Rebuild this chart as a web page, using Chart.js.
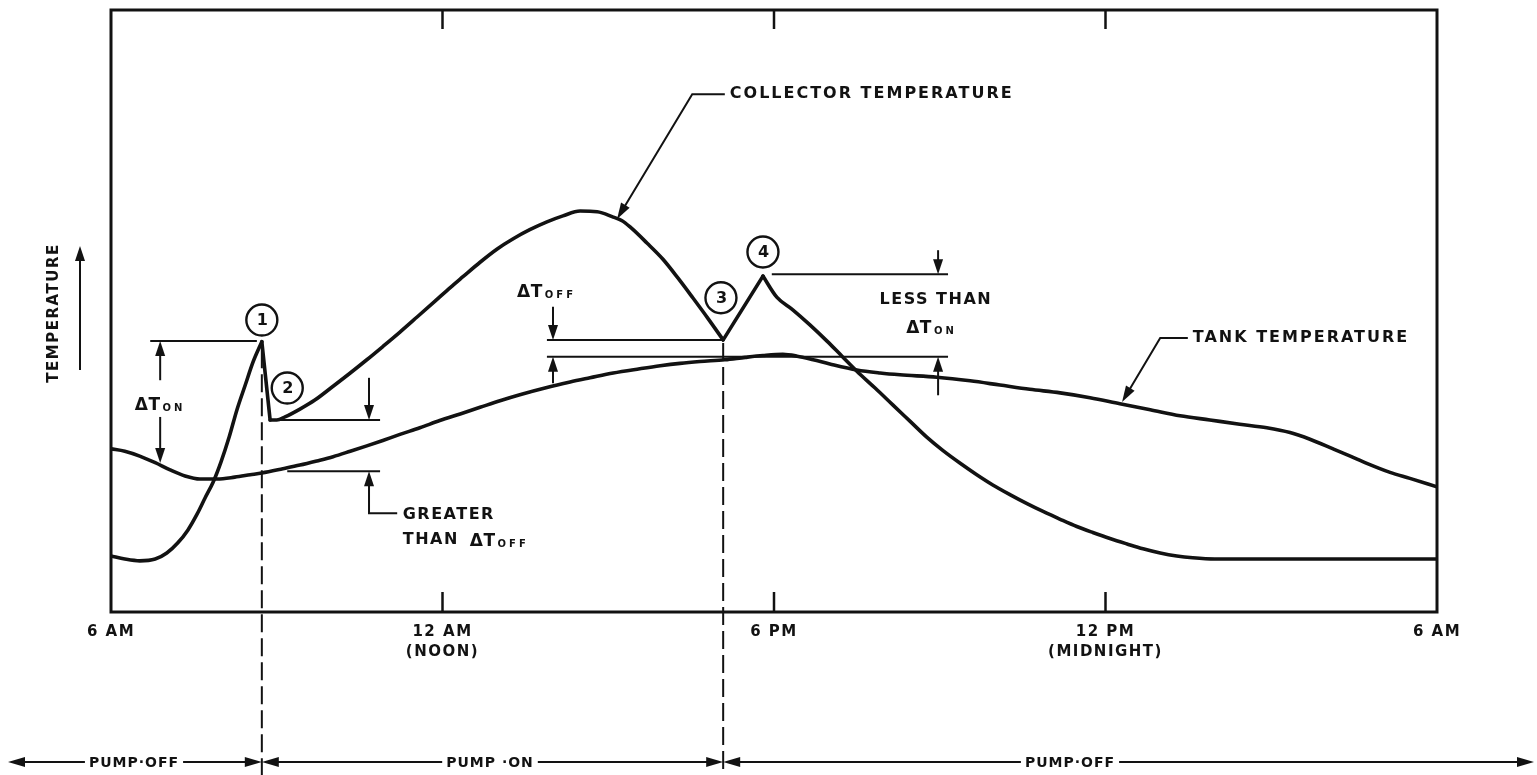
<!DOCTYPE html>
<html>
<head>
<meta charset="utf-8">
<title>Collector and tank temperature over a day</title>
<script src="https://cdn.jsdelivr.net/npm/chart.js@4.4.1/dist/chart.umd.min.js"></script>
<style>
  html, body { margin: 0; padding: 0; background: #fff; }
  canvas { display: block; }
</style>
</head>
<body>
<canvas id="chart" width="1537" height="775"></canvas>
<script>
// Time is counted in hours after 6 AM; temperature is in relative units (0-100).
const collectorHours = [0, 0.25, 0.52, 0.8, 1.01, 1.21, 1.39, 1.56, 1.7, 1.85, 1.99, 2.14, 2.28, 2.43, 2.57, 2.73,
  2.88, 3.0, 3.15, 3.42, 3.69, 4.02, 4.33, 4.63, 4.92, 5.23, 5.54, 5.86, 6.14, 6.37, 6.68, 6.99, 7.28, 7.58, 7.89,
  8.18, 8.49, 8.8, 9.09, 9.25, 9.39, 9.7, 9.99, 10.26, 10.53, 10.81, 11.08, 11.8, 12.05, 12.34, 12.65, 12.96, 13.23,
  13.5, 13.83, 14.15, 14.46, 14.77, 15.06, 15.37, 15.67, 15.96, 16.27, 16.58, 16.87, 17.18, 17.48, 17.77, 18.08,
  18.39, 18.68, 18.99, 19.29, 19.58, 19.98, 24];
const collectorTemp = [9.3, 8.8, 8.5, 8.8, 9.8, 11.5, 13.6, 16.3, 18.9, 21.6, 24.9, 29.1, 33.6, 37.7, 41.5, 44.9,
  31.9, 31.9, 32.4, 33.7, 35.2, 37.5, 39.7, 41.9, 44.1, 46.5, 49.0, 51.6, 53.9, 55.7, 58.1, 60.3, 62.0, 63.5, 64.8,
  65.8, 66.6, 66.5, 65.6, 65.0, 64.0, 61.3, 58.6, 55.5, 52.2, 48.7, 45.2, 55.8, 52.3, 50.2, 47.7, 45.0, 42.5,
  40.0, 37.2, 34.4, 31.7, 29.0, 26.8, 24.7, 22.8, 21.1, 19.5, 18.0, 16.7, 15.4, 14.2, 13.2, 12.2,
  11.3, 10.5, 9.8, 9.3, 9.0, 8.8, 8.8];
// Hours at which the collector curve turns sharply (events 1, 2, 3 and 4).
const collectorCorners = [2.73, 2.88, 11.08, 11.8];

const tankHours = [0, 0.25, 0.52, 0.8, 1.07, 1.34, 1.61, 1.92, 2.24, 2.52, 2.73, 3.11, 3.42, 3.73, 4.02, 4.33, 4.63,
  4.92, 5.23, 5.59, 5.95, 6.32, 6.68, 7.04, 7.4, 7.89, 8.31, 8.67, 9.09, 9.57, 9.94, 10.3, 10.66, 11.11, 11.48, 11.8,
  12.16, 12.42, 12.71, 13.01, 13.5, 13.92, 14.28, 14.95, 15.55, 16.09, 16.63, 17.18, 17.72, 18.26, 18.81, 19.35,
  19.89, 20.43, 20.92, 21.34, 21.7, 22.12, 22.43, 22.73, 23.15, 23.51, 24];
const tankTemp = [27.1, 26.7, 25.9, 24.8, 23.6, 22.6, 22.1, 22.1, 22.4, 22.8, 23.1, 23.8, 24.4, 25.1, 25.8, 26.7, 27.6,
  28.5, 29.5, 30.6, 31.8, 32.9, 34.0, 35.1, 36.1, 37.3, 38.2, 38.9, 39.7, 40.4, 40.9, 41.3, 41.6, 41.9, 42.3, 42.6,
  42.8, 42.5, 41.9, 41.2, 40.2, 39.7, 39.4, 39.0, 38.4, 37.7, 37.0, 36.4, 35.6, 34.6, 33.6, 32.6,
  31.9, 31.2, 30.6, 29.8, 28.7, 27.1, 25.9, 24.7, 23.2, 22.2, 20.8];

const tickHours = [0, 6, 12, 18, 24];
const tickLabels = [["6 AM"], ["12 AM", "(NOON)"], ["6 PM"], ["12 PM", "(MIDNIGHT)"], ["6 AM"]];

// Pump switches on at point 1 and off at point 3.
const pumpSwitchHours = [2.73, 11.08];
const pumpLabels = ["PUMP\u00B7OFF", "PUMP \u00B7ON", "PUMP\u00B7OFF"];

const INK = '#121212';
const FONT = '"DejaVu Sans", "Liberation Sans", sans-serif';

function toPoints(xs, ys) { return xs.map((x, i) => ({ x, y: ys[i] })); }

// Split a series at its corner hours so each smooth stretch is drawn on its own
// and the corners stay sharp.
function splitAt(points, corners) {
  const pieces = [[]];
  points.forEach(p => {
    pieces[pieces.length - 1].push(p);
    if (corners.includes(p.x)) pieces.push([p]);
  });
  return pieces.filter(piece => piece.length > 1);
}

function setText(ctx, size, spacing) {
  ctx.font = 'bold ' + size + 'px ' + FONT;
  ctx.letterSpacing = (spacing || 0) + 'px';
  ctx.fillStyle = INK;
}

function line(ctx, pts, width) {
  ctx.lineWidth = width || 2;
  ctx.beginPath();
  ctx.moveTo(pts[0][0], pts[0][1]);
  for (let i = 1; i < pts.length; i++) ctx.lineTo(pts[i][0], pts[i][1]);
  ctx.stroke();
}

// Polyline ending in a filled arrowhead at the last point.
function arrow(ctx, pts, len, half, width) {
  len = len || 15; half = half || 5;
  const [x1, y1] = pts[pts.length - 2];
  const [x2, y2] = pts[pts.length - 1];
  const a = Math.atan2(y2 - y1, x2 - x1);
  const cut = pts.slice(0, -1).concat([[x2 - Math.cos(a) * len * 0.6, y2 - Math.sin(a) * len * 0.6]]);
  line(ctx, cut, width || 2);
  ctx.beginPath();
  ctx.moveTo(x2, y2);
  ctx.lineTo(x2 - len * Math.cos(a) + half * Math.sin(a), y2 - len * Math.sin(a) - half * Math.cos(a));
  ctx.lineTo(x2 - len * Math.cos(a) - half * Math.sin(a), y2 - len * Math.sin(a) + half * Math.cos(a));
  ctx.closePath();
  ctx.fill();
}

// "ΔT" with a small subscript; x is the left edge (or centre), y the baseline.
function deltaT(ctx, x, y, sub, center) {
  setText(ctx, 17, 0.5);
  const w1 = ctx.measureText('\u0394T').width;
  setText(ctx, 10, 3);
  const w2 = ctx.measureText(sub).width;
  const left = center ? x - (w1 + 2 + w2) / 2 : x;
  ctx.textAlign = 'left';
  ctx.textBaseline = 'alphabetic';
  setText(ctx, 17, 0.5);
  ctx.fillText('\u0394T', left, y);
  setText(ctx, 10, 3);
  ctx.fillText(sub, left + w1 + 2, y + 1);
}

function label(ctx, str, x, y, size, align, spacing) {
  setText(ctx, size, spacing == null ? 1.5 : spacing);
  ctx.textAlign = align || 'left';
  ctx.textBaseline = 'middle';
  ctx.fillText(str, x, y);
}

function circled(ctx, digit, x, y) {
  ctx.lineWidth = 2.4;
  ctx.beginPath();
  ctx.arc(x, y, 15.5, 0, Math.PI * 2);
  ctx.stroke();
  label(ctx, digit, x + 0.5, y + 1, 16, 'center', 0);
}

const annotate = {
  id: 'annotate',
  beforeDraw(chart) {
    const ctx = chart.ctx;
    ctx.save();
    ctx.fillStyle = '#fff';
    ctx.fillRect(0, 0, chart.width, chart.height);
    ctx.restore();
    ctx.letterSpacing = '1.5px';
  },
  afterDraw(chart) {
    const ctx = chart.ctx;
    const xs = chart.scales.x, ys = chart.scales.y;
    const X = h => xs.getPixelForValue(h);
    const Y = v => ys.getPixelForValue(v);
    const area = chart.chartArea;
    ctx.save();
    ctx.strokeStyle = INK;
    ctx.fillStyle = INK;
    ctx.lineCap = 'butt';

    // Frame with inward hour ticks on the top and bottom edges
    ctx.lineWidth = 3;
    ctx.strokeRect(area.left, area.top, area.right - area.left, area.bottom - area.top);
    tickHours.slice(1, -1).forEach(h => {
      line(ctx, [[X(h), area.bottom], [X(h), area.bottom - 20]], 2.5);
      line(ctx, [[X(h), area.top], [X(h), area.top + 19]], 2.5);
    });

    // Vertical axis caption and arrow
    ctx.save();
    ctx.translate(area.left - 57, (area.top + area.bottom) / 2 + 2);
    ctx.rotate(-Math.PI / 2);
    label(ctx, 'TEMPERATURE', 0, 0, 15, 'center', 1.5);
    ctx.restore();
    arrow(ctx, [[area.left - 31, Y(40.2)], [area.left - 31, Y(60.8)]], 15, 5, 2);

    // Pump switching instants
    ctx.save();
    ctx.setLineDash([18, 6]);
    line(ctx, [[X(pumpSwitchHours[0]), Y(43.5)], [X(pumpSwitchHours[0]), chart.height]], 2);
    line(ctx, [[X(pumpSwitchHours[1]), Y(44.7)], [X(pumpSwitchHours[1]), chart.height]], 2);
    ctx.restore();

    // Numbered events
    circled(ctx, '1', X(2.73), Y(48.5));
    circled(ctx, '2', X(3.19), Y(37.2));
    circled(ctx, '3', X(11.04), Y(52.2));
    circled(ctx, '4', X(11.8), Y(59.8));

    // ΔT ON at switch-on
    line(ctx, [[X(0.71), Y(45.0)], [X(2.64), Y(45.0)]], 2);
    arrow(ctx, [[X(0.89), Y(38.5)], [X(0.89), Y(45.0)]]);
    arrow(ctx, [[X(0.89), Y(32.4)], [X(0.89), Y(24.75)]]);
    deltaT(ctx, X(0.89), Y(33.55), 'ON', true);

    // Greater than ΔT OFF after switch-on
    line(ctx, [[X(3.06), Y(31.9)], [X(4.87), Y(31.9)]], 2);
    arrow(ctx, [[X(4.67), Y(38.9)], [X(4.67), Y(31.9)]]);
    line(ctx, [[X(3.19), Y(23.4)], [X(4.87), Y(23.4)]], 2);
    arrow(ctx, [[X(5.18), Y(16.4)], [X(4.67), Y(16.4)], [X(4.67), Y(23.4)]]);
    label(ctx, 'GREATER', X(5.28), Y(16.1), 16, 'left', 1.5);
    label(ctx, 'THAN', X(5.28), Y(12.0), 16, 'left', 1.5);
    setText(ctx, 16, 1.5);
    const thanW = ctx.measureText('THAN ').width;
    deltaT(ctx, X(5.28) + thanW + 4, Y(12.0) + 6, 'OFF', false);

    // ΔT OFF at switch-off
    line(ctx, [[X(7.89), Y(45.2)], [X(11.08), Y(45.2)]], 2);
    line(ctx, [[X(7.89), Y(42.4)], [X(15.15), Y(42.4)]], 2);
    arrow(ctx, [[X(8.0), Y(50.7)], [X(8.0), Y(45.2)]]);
    arrow(ctx, [[X(8.0), Y(38.0)], [X(8.0), Y(42.4)]]);
    deltaT(ctx, X(7.35), Y(52.3), 'OFF', false);

    // Less than ΔT ON after the restart
    line(ctx, [[X(11.96), Y(56.1)], [X(15.15), Y(56.1)]], 2);
    arrow(ctx, [[X(14.97), Y(60.1)], [X(14.97), Y(56.1)]]);
    arrow(ctx, [[X(14.97), Y(36.0)], [X(14.97), Y(42.4)]]);
    label(ctx, 'LESS THAN', X(14.93), Y(51.8), 16, 'center', 1.5);
    deltaT(ctx, X(14.85), Y(46.3), 'ON', true);

    // Curve captions
    label(ctx, 'COLLECTOR TEMPERATURE', X(11.2), Y(86.0), 16, 'left', 2);
    arrow(ctx, [[X(11.11), Y(86.0)], [X(10.52), Y(86.0)], [X(9.16), Y(65.3)]], 16, 5, 2);
    label(ctx, 'TANK TEMPERATURE', X(19.58), Y(45.5), 16, 'left', 2);
    arrow(ctx, [[X(19.49), Y(45.5)], [X(18.99), Y(45.5)], [X(18.3), Y(34.9)]], 16, 5, 2);

    // Pump state bar
    const rowY = area.bottom + 150;
    const edges = [8, X(pumpSwitchHours[0]), X(pumpSwitchHours[1]), chart.width - 3];
    const centres = [134, 490, 1070];
    pumpLabels.forEach((txt, i) => {
      setText(ctx, 14, 1);
      const w = ctx.measureText(txt).width;
      const a = edges[i], b = edges[i + 1];
      arrow(ctx, [[centres[i] - w / 2 - 4, rowY], [a, rowY]], 17, 5, 2);
      arrow(ctx, [[centres[i] + w / 2 + 4, rowY], [b, rowY]], 17, 5, 2);
      label(ctx, txt, centres[i], rowY + 1, 14, 'center', 1);
    });

    ctx.restore();
  }
};

Chart.defaults.font.family = FONT;
Chart.defaults.color = INK;

const curveStyle = {
  borderColor: INK,
  borderWidth: 3.6,
  borderCapStyle: 'round',
  borderJoinStyle: 'round',
  pointRadius: 0,
  cubicInterpolationMode: 'monotone',
  fill: false
};

const collectorPieces = splitAt(toPoints(collectorHours, collectorTemp), collectorCorners);

new Chart(document.getElementById('chart'), {
  type: 'line',
  data: {
    datasets: [
      ...collectorPieces.map(piece => Object.assign({ label: 'Collector temperature', data: piece }, curveStyle)),
      Object.assign({ label: 'Tank temperature', data: toPoints(tankHours, tankTemp) }, curveStyle)
    ]
  },
  options: {
    responsive: false,
    animation: false,
    events: [],
    layout: { padding: { left: 111, right: 100, top: 10, bottom: 0 } },
    plugins: { legend: { display: false }, tooltip: { enabled: false } },
    scales: {
      x: {
        type: 'linear',
        min: 0,
        max: 24,
        grid: { display: false, drawTicks: false },
        border: { display: false },
        afterBuildTicks: scale => { scale.ticks = tickHours.map(value => ({ value })); },
        afterFit: scale => { scale.height = 163; },
        ticks: {
          autoSkip: false,
          maxRotation: 0,
          padding: 10,
          color: INK,
          font: { size: 15, weight: 'bold', lineHeight: 1.35 },
          callback: value => tickLabels[tickHours.indexOf(value)]
        }
      },
      y: { display: false, min: 0, max: 100 }
    }
  },
  plugins: [annotate]
});
</script>
</body>
</html>
